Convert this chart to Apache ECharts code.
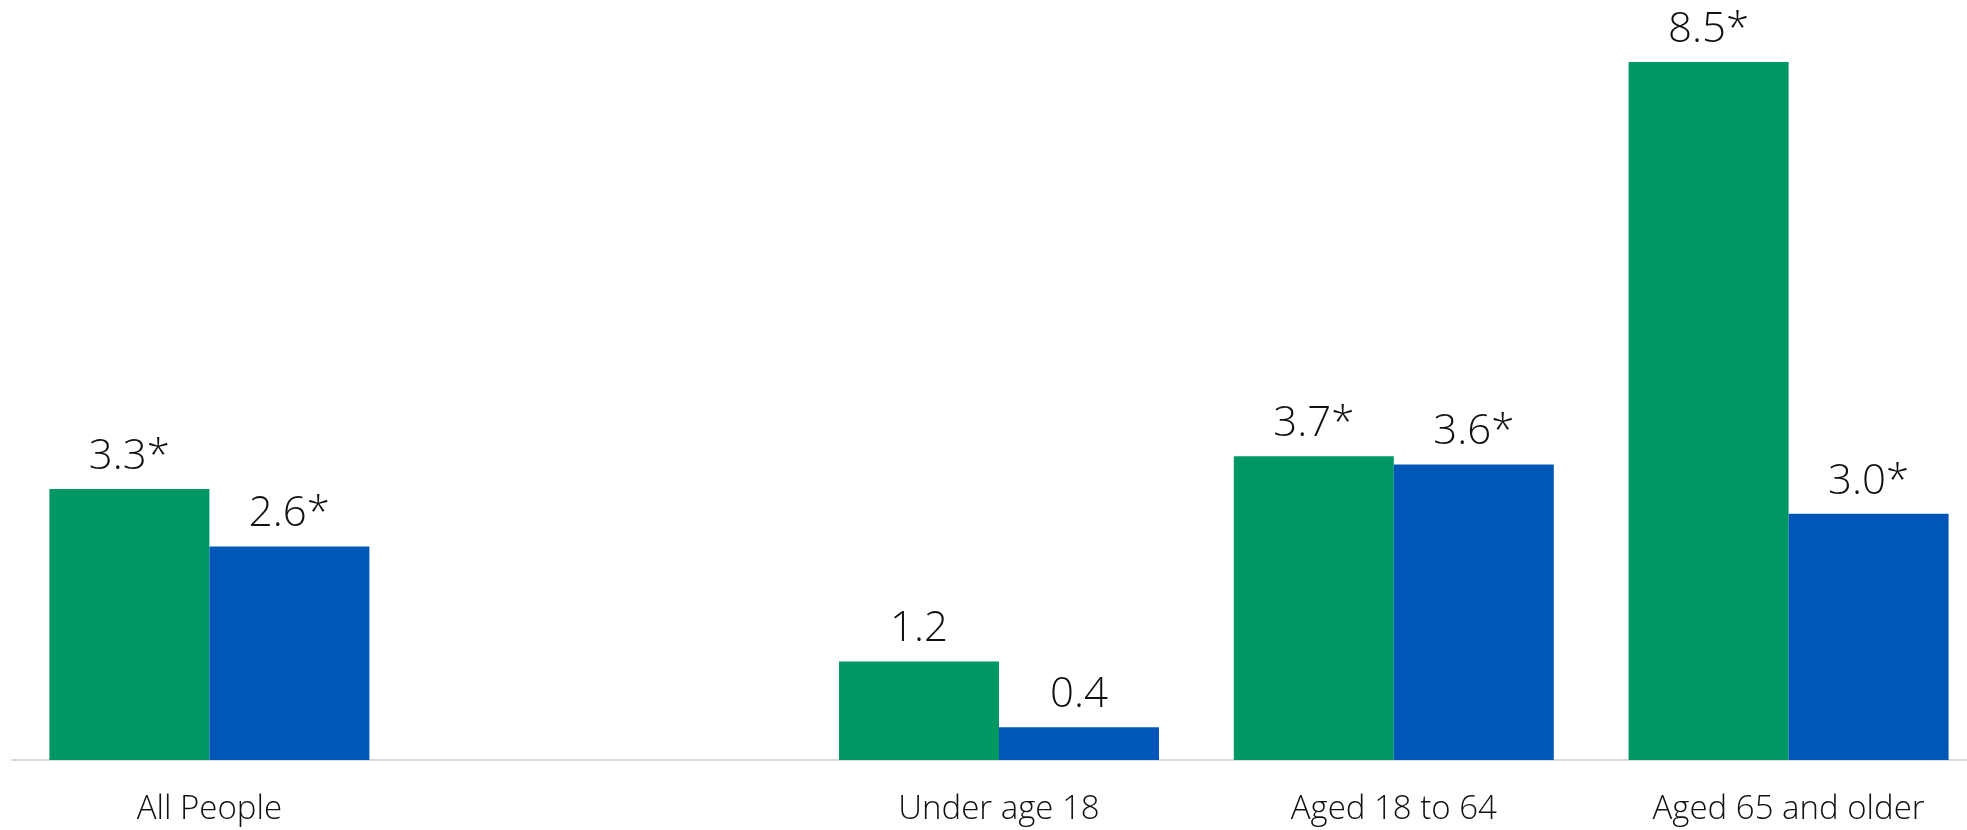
<!DOCTYPE html>
<html>
<head>
<meta charset="utf-8">
<script src="https://cdn.jsdelivr.net/npm/echarts@6/dist/echarts.min.js"></script>
<style>
html,body{margin:0;padding:0;background:#fff;overflow:hidden;width:1967px;height:830px;}
#chart{width:1986px;height:830px;}
</style>
</head>
<body>
<div id="chart"></div>
<script>
const categories = ['All People', '', 'Under age 18', 'Aged 18 to 64', 'Aged 65 and older'];
const greenValues = [3.3, null, 1.2, 3.7, 8.5];
const blueValues = [2.6, null, 0.4, 3.6, 3.0];
const greenSignificant = [true, false, false, true, true];
const blueSignificant = [true, false, false, true, true];

const chart = echarts.init(document.getElementById('chart'), null, {renderer: 'canvas'});

function makeLabel(sigArr) {
  return {
    show: true,
    position: 'top',
    distance: 11,
    fontFamily: 'Open Sans',
    fontWeight: 300,
    fontSize: 42,
    color: '#111',
    formatter: p => (p.value == null ? '' : p.value.toFixed(1) + (sigArr[p.dataIndex] ? '*' : ''))
  };
}

const option = {
  animation: false,
  grid: {left: 12, right: 0, top: 21, bottom: 70, containLabel: false},
  xAxis: {
    type: 'category',
    data: categories,
    axisLine: {show: true, lineStyle: {color: '#d9d9d9', width: 2}},
    axisTick: {show: false},
    axisLabel: {
      interval: 0,
      margin: 33,
      fontFamily: 'Open Sans',
      fontWeight: 300,
      fontSize: 33,
      color: '#111'
    }
  },
  yAxis: {
    type: 'value',
    min: 0,
    max: 9,
    show: false,
    splitLine: {show: false}
  },
  series: [
    {
      name: 'Green',
      type: 'bar',
      data: greenValues,
      barWidth: 160,
      barGap: 0,
      itemStyle: {color: '#009862'},
      label: makeLabel(greenSignificant)
    },
    {
      name: 'Blue',
      type: 'bar',
      data: blueValues,
      barWidth: 160,
      barGap: 0,
      itemStyle: {color: '#0057B8'},
      label: makeLabel(blueSignificant)
    }
  ]
};
chart.setOption(option);
</script>
</body>
</html>
